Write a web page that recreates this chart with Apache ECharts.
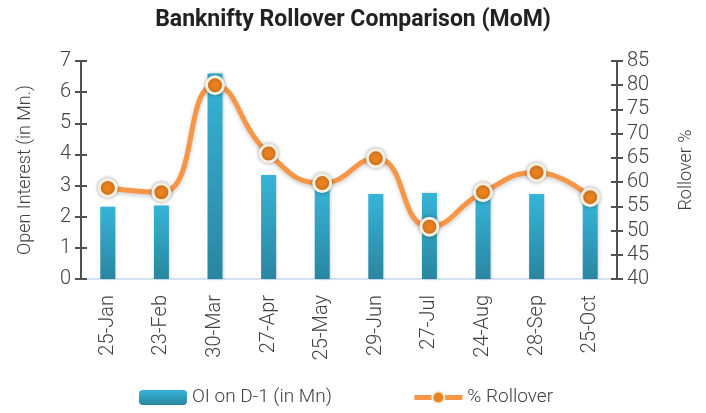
<!DOCTYPE html>
<html><head><meta charset="utf-8">
<script src="https://cdn.jsdelivr.net/npm/echarts@6/dist/echarts.min.js"></script>
<style>html,body{margin:0;padding:0;background:#fff}#c{width:706px;height:413px}</style>
</head><body><div id="c"></div>
<script>
const categories = ['25-Jan','23-Feb','30-Mar','27-Apr','25-May','29-Jun','27-Jul','24-Aug','28-Sep','25-Oct'];
const oiValues = [2.32, 2.36, 6.6, 3.34, 2.95, 2.73, 2.76, 2.65, 2.73, 2.45];
const rolloverValues = [58.8, 57.9, 80, 65.9, 59.8, 64.9, 50.8, 57.9, 62, 56.9];
const leftTicks = {min: 0, max: 7, interval: 1};
const rightTicks = {min: 40, max: 85, interval: 5};

const FONT = 'Roboto';
const txt = '#404040';
const chart = echarts.init(document.getElementById('c'));
const axisCommon = (t, pos, name, nameGap) => ({
  type: 'value', position: pos, min: t.min, max: t.max, interval: t.interval,
  name: name, nameLocation: 'middle', nameGap: nameGap, nameRotate: 90,
  nameTextStyle: {color: txt, fontSize: 18, fontFamily: FONT, fontWeight: 300},
  axisLine: {show: true, lineStyle: {color: '#505050', width: 2}},
  axisTick: {show: true, length: 6, lineStyle: {color: '#505050', width: 2}},
  axisLabel: {color: txt, fontSize: 20, fontFamily: FONT, fontWeight: 300, margin: 10},
  splitLine: {show: false}
});
const innerAxis = (t, pos) => ({
  type: 'value', position: pos, min: t.min, max: t.max, interval: t.interval,
  axisLine: {show: false}, axisLabel: {show: false}, splitLine: {show: false},
  axisTick: {show: true, inside: true, length: 6, lineStyle: {color: '#505050', width: 2}}
});
chart.setOption({
  animation: false,
  title: {text: 'Banknifty Rollover Comparison (MoM)', left: 'center', top: 4,
    textStyle: {fontFamily: FONT, fontWeight: 'bold', fontSize: 23, color: '#222'}},
  grid: {left: 81, right: 89, top: 61, bottom: 134},
  legend: {bottom: 1, left: 134, itemGap: 80, itemWidth: 48, itemHeight: 15,
    textStyle: {color: txt, fontSize: 19, fontFamily: FONT, fontWeight: 300},
    data: [{name: 'OI on D-1 (in Mn)'},
           {name: '% Rollover', lineStyle: {width: 5, color: '#f79646'}}]},
  xAxis: {type: 'category', data: categories,
    axisLine: {lineStyle: {color: '#d3e3f3', width: 2}},
    axisTick: {show: false},
    axisLabel: {rotate: 90, color: txt, fontSize: 20, fontFamily: FONT, fontWeight: 300, margin: 16}},
  yAxis: [
    axisCommon(leftTicks, 'left', 'Open Interest (in Mn.)', 47),
    axisCommon(rightTicks, 'right', 'Rollover %', 60),
    innerAxis(leftTicks, 'left'),
    innerAxis(rightTicks, 'right')
  ],
  series: [
    {name: 'OI on D-1 (in Mn)', type: 'bar', yAxisIndex: 0, barWidth: 15, data: oiValues,
      itemStyle: {color: new echarts.graphic.LinearGradient(0,0,0,1,[{offset:0,color:'#36b4d8'},{offset:1,color:'#2a86a0'}]),
        shadowColor: 'rgba(0,0,0,0.2)', shadowBlur: 3, shadowOffsetX: 1}},
    {name: '% Rollover', type: 'line', yAxisIndex: 1, smooth: 0.5, data: rolloverValues,
      symbol: 'circle', symbolSize: 17,
      lineStyle: {color: '#f79646', width: 5, shadowColor: 'rgba(0,0,0,0.2)', shadowBlur: 4, shadowOffsetY: 2},
      itemStyle: {color: '#ea8220', borderColor: '#f3efe0', borderWidth: 3, shadowColor: 'rgba(0,0,0,0.3)', shadowBlur: 4}}
  ]
});
</script></body></html>
